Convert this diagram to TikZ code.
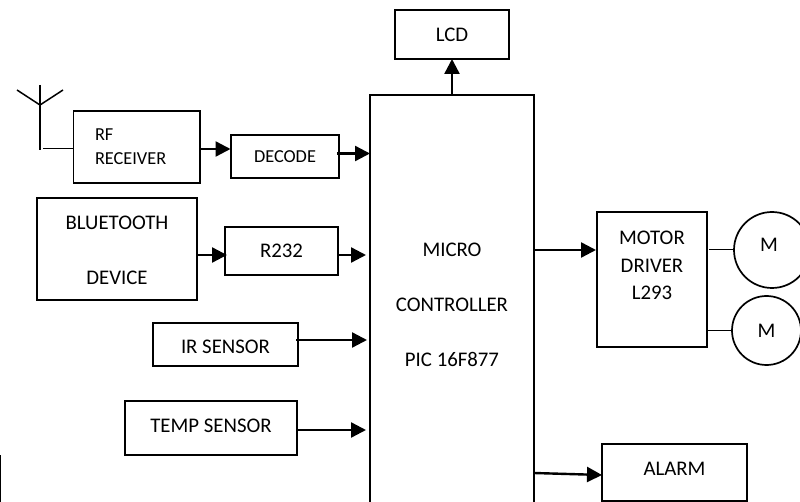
\documentclass[tikz,border=0pt]{standalone}
\usepackage{fontspec}
\setmainfont{Carlito}
\usetikzlibrary{positioning, arrows.meta}

\begin{document}
\begin{tikzpicture}[
    >={Triangle[length=15pt, width=15pt]},
    % Styles
    box/.style={draw=black, rectangle, align=center, line width=1.7pt, outer sep=0pt, inner sep=0pt, font=\fontsize{20.8}{27.5}\selectfont},
    smallbox/.style={box, font=\fontsize{18.3}{24}\selectfont},
    motor/.style={draw=black, circle, inner sep=0pt, outer sep=0pt, line width=1.7pt, font=\fontsize{20.8}{27.5}\selectfont},
    link/.style={->, line width=2.4pt},
    wire/.style={line width=1.5pt}
    ]

    \path[use as bounding box, clip] (0,0) rectangle (800pt,-502pt);

    % 1. Controller (runs off the bottom edge)
    \node (mcu) [box, minimum width=164pt, minimum height=415pt] at (452pt,-302.5pt) {\rule{0pt}{19pt}MICRO \\ \\ CONTROLLER \\ \\ PIC 16F877};

    % 2. Display
    \node (lcd) [box, minimum width=114pt, minimum height=49pt, above=36pt of mcu] {LCD};

    % 3. Inputs
    \node (decode) [smallbox, minimum width=108pt, minimum height=43pt, left=31pt of mcu, yshift=146pt] {DECODE};
    \node (rf) [smallbox, minimum width=126.5pt, minimum height=72pt, text width=83.5pt, align=left, left=31pt of decode, yshift=9.5pt] {RF \\ RECEIVER};
    \node (r232) [box, minimum width=113pt, minimum height=48pt, left=32pt of mcu, yshift=51.5pt] {R232};
    \node (bt) [box, minimum width=160pt, minimum height=102pt, left=28pt of r232, yshift=2pt] {\rule{0pt}{17pt}BLUETOOTH \\ \\ DEVICE};
    \node (ir) [box, minimum width=145pt, minimum height=43pt, text height=18pt, left=72pt of mcu, yshift=-42pt] {IR SENSOR};
    \node (temp) [box, minimum width=172pt, minimum height=54pt, text depth=4pt, left=73pt of mcu, yshift=-125.5pt] {TEMP SENSOR};

    % 4. Outputs
    \node (driver) [box, minimum width=110pt, minimum height=135pt, right=63pt of mcu, yshift=23pt] {MOTOR \\ DRIVER \\ L293 \\ \mbox{}};
    \node (m1) [motor, minimum size=76pt, text depth=10pt, right=27pt of driver, yshift=29.5pt] {M\hspace*{6pt}};
    \node (m2) [motor, minimum size=69pt, right=25pt of driver, yshift=-51pt] {M};
    \node (alarm) [box, minimum width=145pt, minimum height=57pt, text depth=8pt, right=68pt of mcu, yshift=-170pt] {ALARM};

    % Antenna
    \coordinate (ant_top) at (40pt,-85pt);
    \coordinate (ant_base) at (40pt,-150pt);
    \coordinate (ant_mid) at (40pt,-105pt);
    \coordinate (ant_left) at (17pt,-90pt);
    \coordinate (ant_right) at (63pt,-90pt);
    \coordinate (ant_feed) at (43pt,-148.5pt);
    \draw[wire] (ant_top) -- (ant_base);
    \draw[wire] (ant_left) -- (ant_mid) -- (ant_right);
    \draw[wire] (ant_feed) -- (ant_feed -| rf.west);

    % Connections / Arrows
    \draw[link] (mcu.north -| lcd) -- (lcd.south);
    \draw[link] (rf.east) ++(0,-2pt) -- ++(30.5pt,0);
    \draw[link] (decode.east) ++(-2pt,3pt) -- (mcu.west |- {0,-153.5pt});
    \draw[link] (bt.east) ++(0,-6pt) -- ++(30pt,0);
    \draw[link] (r232.east) ++(-1pt,-4pt) -- ++(29pt,0);
    \draw[link] (ir.east) ++(-2pt,4.5pt) -- ++(71pt,0);
    \draw[link] (temp.east) ++(-1pt,-2pt) -- ++(70pt,0);
    \draw[link] (mcu.east |- driver.west) ++(0,29.5pt) -- ++(62pt,0);
    \draw[link] (mcu.east |- alarm.west) ++(0,-0.5pt) -- (alarm.west |- {0,-475pt});
    \draw[line width=1pt] (driver.east |- m1) ++(2pt,0) -- (m1.west);
    \draw[line width=1.5pt] (driver.east |- m2) -- (m2.west);

    % Stray rule at the lower left
    \coordinate (edge_top) at (0pt,-455pt);
    \coordinate (edge_end) at (0pt,-502pt);
    \draw[line width=2pt] (edge_top) -- (edge_end);
\end{tikzpicture}
\end{document}
